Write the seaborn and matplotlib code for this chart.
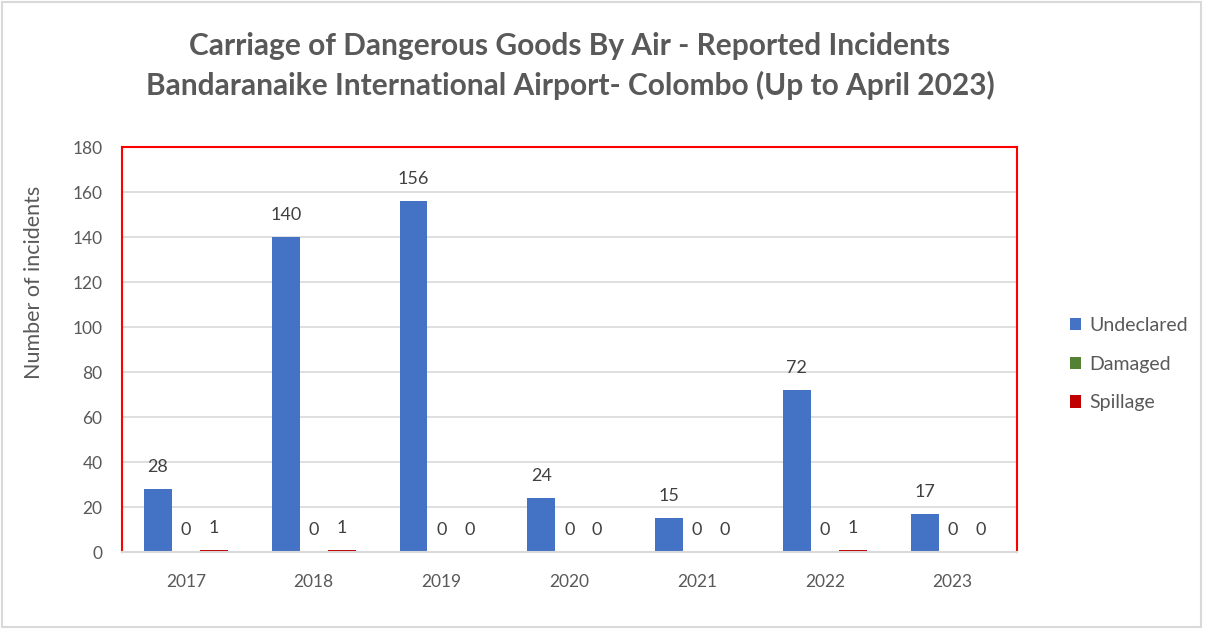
import matplotlib
matplotlib.use("Agg")
import matplotlib.pyplot as plt
import seaborn as sns
import pandas as pd
from matplotlib.patches import Rectangle

years = ["2017", "2018", "2019", "2020", "2021", "2022", "2023"]
undeclared = [28, 140, 156, 24, 15, 72, 17]
damaged = [0, 0, 0, 0, 0, 0, 0]
spillage = [1, 1, 0, 0, 0, 1, 0]
series = ["Undeclared", "Damaged", "Spillage"]
colors = ["#4472C4", "#548235", "#C00000"]

df = pd.DataFrame({
    "year": years * 3,
    "kind": [s for s in series for _ in years],
    "count": undeclared + damaged + spillage,
})

sns.set_style("white")
plt.rcParams["font.family"] = ["Lato", "DejaVu Sans"]
grey = "#595959"

fig = plt.figure(figsize = (12.05, 6.29), dpi = 100)
ax = fig.add_axes([0.1012, 0.1224, 0.7424, 0.6438])

sns.barplot(data = df, x = "year", y = "count", hue = "kind", order = years,
            hue_order = series, palette = colors, width = 0.656, gap = 0,
            saturation = 1, ax = ax, linewidth = 0)

for c in ax.containers:
    ax.bar_label(c, fmt = "%d", padding = 10, fontsize = 13, color = "#404040")

ax.set_ylim(0, 180)
ax.set_yticks(range(0, 181, 20))
ax.set_xlim(-0.5, 6.5)
ax.grid(axis = "y", color = "#D9D9D9", linewidth = 1.2)
ax.set_axisbelow(True)
ax.tick_params(axis = "both", length = 0, labelsize = 12.5, labelcolor = grey)
ax.tick_params(axis = "x", pad = 16)
ax.tick_params(axis = "y", pad = 14)
ax.set_xlabel("")
ax.set_ylabel("Number of incidents", fontsize = 15.5, color = grey)
ax.yaxis.set_label_coords(-0.087, 0.667)

for side in ["left", "top", "right"]:
    ax.spines[side].set_visible(True)
    ax.spines[side].set_color("#FF0000")
    ax.spines[side].set_linewidth(1.5)
ax.spines["bottom"].set_color("#D9D9D9")
ax.spines["bottom"].set_linewidth(1.5)

ax.legend(loc = "center left", bbox_to_anchor = (1.04, 0.464), frameon = False,
          fontsize = 14, labelcolor = grey, handlelength = 0.6, handleheight = 0.6,
          handletextpad = 0.4, labelspacing = 1.12)

title_font = dict(ha = "center", va = "center", fontsize = 21.5, fontweight = "bold", color = grey)
fig.text(0.473, 0.927, "Carriage of Dangerous Goods By Air - Reported Incidents", **title_font)
fig.text(0.473, 0.864, "Bandaranaike International Airport- Colombo (Up to April 2023)", **title_font)

fig.patches.append(Rectangle((0.002, 0.003), 0.995, 0.994, transform = fig.transFigure,
                             fill = False, edgecolor = "#D9D9D9", linewidth = 1.5))

fig.savefig("out.png", dpi = 100)
